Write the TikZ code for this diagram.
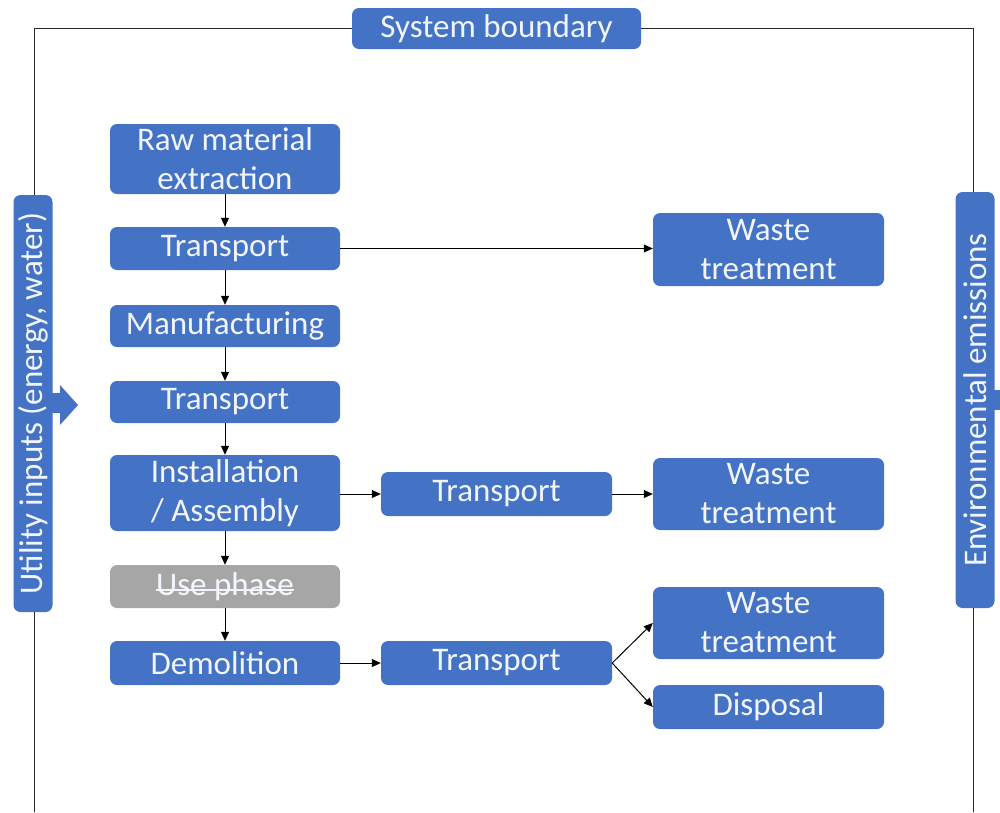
\documentclass[tikz,border=0pt]{standalone}
\usepackage{fontspec}
\setmainfont{Carlito}
\usetikzlibrary{arrows.meta}
\definecolor{boxblue}{HTML}{4472C4}
\definecolor{boxgrey}{HTML}{A6A6A6}
\definecolor{boxtext}{HTML}{F2F6FC}
\tikzset{
	stage/.style={fill=boxblue, rounded corners=7pt, text=boxtext, align=center, inner sep=0pt, minimum width=230, minimum height=43, font=\fontsize{33}{39}\selectfont},
	sidebar/.style={stage, rotate=90, minimum height=39},
	flow/.style={-{Triangle[length=9pt,width=8pt]}, line width=1pt},
}

\begin{document}
\begin{tikzpicture}[x=1pt, y=-1pt]
		%%%%% START %%%%%
		\useasboundingbox (0, 0) rectangle (1000, 812);
		
		\draw[line width=0.9pt, black!85] (34, 812) |- (973, 28) -- (973, 812);
		\node[stage, minimum width=289, minimum height=41] (bound) at (496.5, 28.5) {System boundary};
		
		\node[sidebar, minimum width=417] (util) at (33, 403.5) {Utility inputs (energy, water)};
		\fill[boxblue] (52, 393) -- (60, 393) -- (60, 385) -- (78, 405) -- (60, 425) -- (60, 413) -- (52, 413) -- cycle;
		\node[sidebar, minimum width=416] (emis) at (975, 400) {Environmental emissions};
		\fill[boxblue] (994, 390) rectangle (1000, 410);
		
		\node[stage, minimum height=70] (raw) at (225, 159) {Raw material\\extraction};
		\node[stage] (trans1) at (225, 248.5) {Transport};
		\node[stage, minimum height=42] (manu) at (225, 326) {Manufacturing};
		\node[stage, minimum height=42] (trans2) at (225, 402) {Transport};
		\node[stage, minimum height=76] (inst) at (225, 493) {Installation\\/ Assembly};
		\node[stage, fill=boxgrey] (use) at (225, 586.5) {Use phase};
		\draw[boxtext, line width=1.6pt] (use.center) ++(-69, 3.5) -- ++(138, 0);
		\node[stage, minimum height=44] (demo) at (225, 663) {Demolition};
		
		\node[stage, minimum width=231, minimum height=44] (trans3) at (496.5, 494) {Transport};
		\node[stage, minimum width=231, minimum height=44] (trans4) at (496.5, 663) {Transport};
		
		\node[stage, minimum width=231, minimum height=73] (waste1) at (768.5, 249.5) {Waste\\treatment};
		\node[stage, minimum width=231, minimum height=72] (waste2) at (768.5, 494) {Waste\\treatment};
		\node[stage, minimum width=231, minimum height=72] (waste3) at (768.5, 623) {Waste\\treatment};
		\node[stage, minimum width=231, minimum height=44] (disp) at (768.5, 707) {Disposal};
		
		\draw[flow] (raw) -- (trans1);
		\draw[flow] (trans1) -- (manu);
		\draw[flow] (manu) -- (trans2);
		\draw[flow] (trans2) -- (inst);
		\draw[flow] (inst) -- (use);
		\draw[flow] (use) -- (demo);
		
		\draw[flow] (trans1.east) -- (trans1.east -| waste1.west);
		\draw[flow] (inst.east |- trans3) -- (trans3.west);
		\draw[flow] (trans3) -- (waste2);
		\draw[flow] (demo) -- (trans4);
		\draw[flow] (trans4.east) -- (waste3.west);
		\draw[flow] (trans4.east) -- (disp.west);
		
		%%%%% END %%%%%
	\end{tikzpicture}
\end{document}
